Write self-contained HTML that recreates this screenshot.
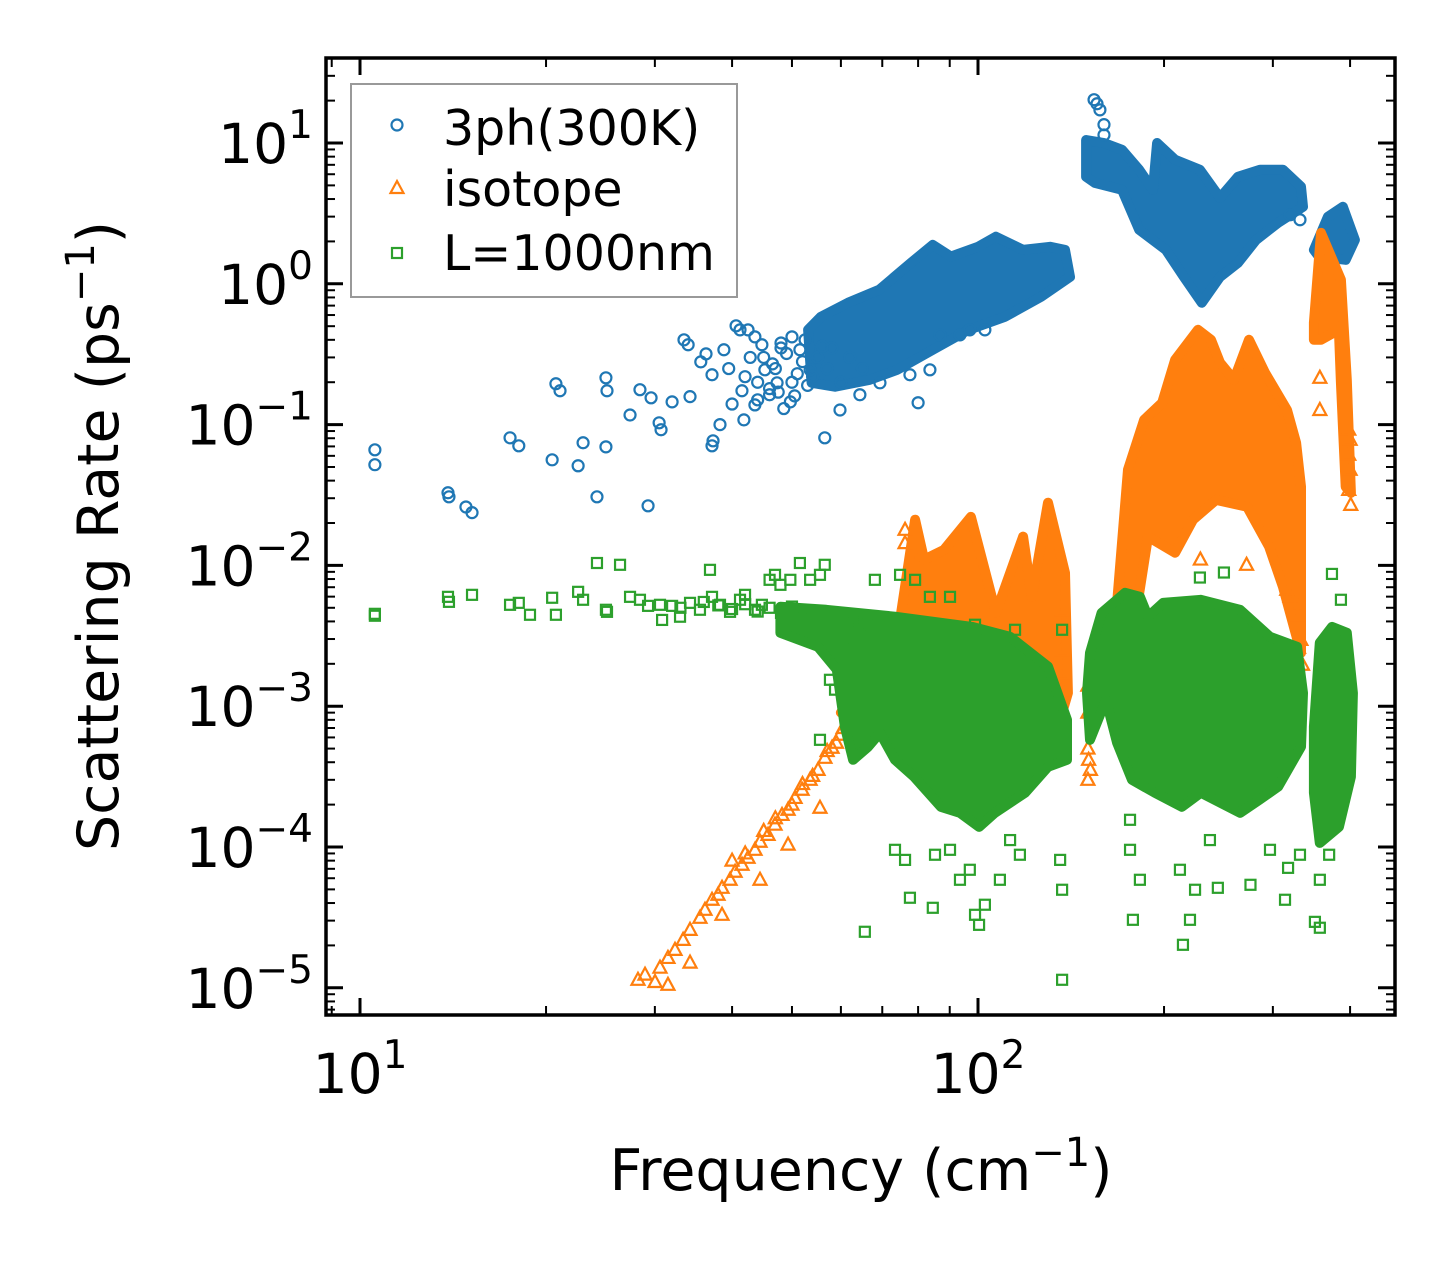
<!DOCTYPE html>
<html><head><meta charset="utf-8"><style>
html,body{margin:0;padding:0;background:#fff;}
svg{display:block;font-family:"DejaVu Sans","Liberation Sans",sans-serif;}
</style></head><body>
<svg id="chart" width="1455" height="1265" viewBox="0 0 1455 1265" xmlns="http://www.w3.org/2000/svg">
<defs><clipPath id="plotclip"><rect x="326" y="58" width="1069" height="957"/></clipPath></defs>
<rect x="0" y="0" width="1455" height="1265" fill="#fff"/>
<g id="marks" clip-path="url(#plotclip)"></g>
<g id="axes"></g>
<text transform="translate(118,536) rotate(-90)" text-anchor="middle" font-size="57" fill="#000">Scattering Rate (ps<tspan dy="-24" font-size="40">−1</tspan><tspan dy="24">)</tspan></text>
<text x="861" y="1190" text-anchor="middle" font-size="57" fill="#000">Frequency (cm<tspan dy="-24" font-size="40">−1</tspan><tspan dy="24">)</tspan></text>
<g>
<rect x="351" y="84" width="386" height="213" fill="#fff" stroke="#999" stroke-width="2"/>
<g><circle cx="397" cy="125" r="5.5" fill="none" stroke="#1f77b4" stroke-width="2.2"/><text x="443" y="145" font-size="49">3ph(300K)</text></g>
<g><polygon points="397,181 403.5,193 390.5,193" fill="none" stroke="#ff7f0e" stroke-width="2.2"/><text x="443" y="206" font-size="49">isotope</text></g>
<g><rect x="392" y="248" width="10" height="10" fill="none" stroke="#2ca02c" stroke-width="2.2"/><text x="443" y="270" font-size="49">L=1000nm</text></g>
</g>
</svg>
<script>
// ---- data (frequency in cm^-1, rate in ps^-1) ----
const blueCloud1Freq=[53.1,55.7,61.6,69.2,77.9,84.5,90.4,100,106.9,118.3,130.8,138.3,140.9,126.5,110.6,96.6,84.5,74,66.8,58.7,53.8];
const blueCloud1Rate=[0.471,0.583,0.733,0.906,1.41,1.89,1.56,1.83,2.16,1.74,1.83,1.74,1.12,0.809,0.583,0.471,0.34,0.245,0.208,0.186,0.198];
const blueCloud2Freq=[149.6,159.9,171,182.3,191.9,194.9,208.4,228.6,246.4,263.5,286,311.6,333.1,335.6,305.9,281.8,263.5,246.4,230.2,215.4,201.4,182.3,171,154.6,149.6];
const blueCloud2Rate=[10.5,10,8.95,6.45,4.65,10,7.6,6.45,4.08,5.75,6.45,6.45,4.89,3.52,2.71,2.05,1.41,1.12,0.733,1.12,1.74,2.42,4.65,5.21,5.75];
const blueCloud3Freq=[349.5,368.3,389.5,407.3,393.6,356.3];
const blueCloud3Rate=[1.74,2.99,3.52,2.05,1.48,1.56];
const blueFreq=[10.57,10.57,13.88,13.93,14.84,15.18,17.49,18.07,20.46,20.75,21.07,22.54,22.96,24.18,25.0,25.1,25.0,29.25,27.35,28.38,29.58,30.48,30.7,31.99,33.44,33.96,34.2,35.6,36.3,37.12,37.26,37.12,38.24,38.8,40.6,41.2,41.98,41.5,41.8,42.45,43.55,43.55,44.7,45.2,46.0,47.3,49.7,51.5,53.5,56.5,59.8,64.4,69.4,77.6,80.0,83.6,86.8,93.5,97.0,102.6,154.1,155.8,157.5,159.9,159.9,319.8,331.9,45,47,48,50,52,54,46,44,48.5,50.5,55,57,58,60,62,65,39.5,40,42.8,46.5,49,51,53,44,47.5,52.5,56,50,48];
const blueRate=[0.0662,0.0519,0.0328,0.0307,0.026,0.0237,0.0806,0.0707,0.0562,0.195,0.174,0.051,0.0743,0.0307,0.215,0.174,0.0695,0.0265,0.117,0.177,0.155,0.103,0.0919,0.145,0.40,0.369,0.158,0.279,0.318,0.0707,0.0767,0.226,0.1,0.34,0.503,0.471,0.219,0.174,0.108,0.471,0.42,0.138,0.369,0.245,0.163,0.198,0.145,0.34,0.245,0.0806,0.127,0.163,0.198,0.226,0.143,0.245,0.434,0.434,0.471,0.471,20.3,19.0,17.2,13.5,11.4,3.09,2.85,0.3,0.25,0.35,0.2,0.28,0.22,0.18,0.15,0.13,0.16,0.3,0.25,0.35,0.2,0.3,0.25,0.25,0.14,0.3,0.27,0.32,0.23,0.19,0.2,0.17,0.4,0.36,0.42,0.38];
const orangeHumpFreq=[151.8,167.9,174.9,185.7,198.6,208.4,227,238.2,246.4,259.6,274.5,291.4,316.2,327.1,333.1,333.1,311.6,295.8,272.5,242.7,222.8,208.4,188.4,179.5,161.1,151.8];
const orangeHumpRate=[0.00137,0.00542,0.0478,0.108,0.143,0.288,0.471,0.40,0.275,0.208,0.40,0.233,0.127,0.0743,0.0362,0.00239,0.00703,0.0136,0.0261,0.0292,0.0211,0.0123,0.016,0.0041,0.00111,0.0008];
const orangeMidFreq=[60,66.8,74.8,79.1,81.8,88.1,97.4,106.9,118.3,122.2,129.8,138.3,139.8,135.8,90,74.8,66];
const orangeMidRate=[0.0009,0.0015,0.0041,0.0211,0.011,0.0129,0.0221,0.0046,0.016,0.00597,0.0279,0.00885,0.00124,0.0008,0.0006,0.0008,0.0008];
const orangeSpikeFreq=[349.5,358.9,386.6,395.1,401.2,393.6,386.6,383.7,358.9,349.5];
const orangeSpikeRate=[0.53,2.3,1.07,0.208,0.0328,0.0362,0.2,0.471,0.4,0.4];
const orangeFreq=[28.17,28.92,30.02,30.58,31.5,32.34,33.33,34.2,35.49,36.16,37.12,37.96,38.53,39.7,40.45,41.51,42.45,43.57,44.39,45.74,46.94,48.18,49.28,50.58,51.92,53.49,55.1,56.53,58.05,59.8,61.6,63.24,31.5,34.2,38.53,44.39,49.28,55.5,40,42,45,47,50,52,54,57,59,60.5,62,64,66,68,70,357.4,357.4,398,400,398,400,398,401,316,333,335,229,272,183,176,164,136,135,151,152,76.2,76.2,319.8,328.3,328.3,330,136.8,136.8,136.8,136.8,136.8,150.6,150.6,150.6,150.6];
const orangeRate=[1.14e-5,1.24e-5,1.10e-5,1.39e-5,1.63e-5,1.86e-5,2.19e-5,2.58e-5,3.14e-5,3.58e-5,4.22e-5,4.58e-5,5.13e-5,5.85e-5,6.67e-5,7.48e-5,8.38e-5,9.55e-5,1.09e-4,1.22e-4,1.44e-4,1.69e-4,1.84e-4,2.23e-4,2.55e-4,3.0e-4,3.53e-4,4.3e-4,5.07e-4,6.27e-4,8.0e-4,1.02e-3,1.05e-5,1.51e-5,3.3e-5,5.85e-5,1.04e-4,1.9e-4,8e-5,9e-5,1.3e-4,1.6e-4,2e-4,2.8e-4,3.2e-4,4.8e-4,5.5e-4,7e-4,9e-4,1.2e-3,1.5e-3,2e-3,2.5e-3,0.215,0.127,0.092,0.078,0.061,0.0478,0.0344,0.0269,0.00671,0.00296,0.00197,0.011,0.0101,0.00214,0.00131,0.00131,0.00074,0.000532,0.000416,0.000353,0.0179,0.0144,0.006,0.0052,0.0044,0.0026,0.0048,0.0035,0.0025,0.0017,0.0013,0.0014,0.0009,0.0005,0.0003];
const greenCloudAFreq=[47.9,56.8,73.4,97.8,112.7,129.8,139.3,139.3,129.8,119.2,106.5,100.4,93.5,87.1,78.8,73.4,69.4,66.4,62.8,60.9,59.1,55.1,47.9];
const greenCloudARate=[0.00508,0.00484,0.00432,0.00366,0.00311,0.00191,0.0008,0.000416,0.000371,0.000243,0.000175,0.000139,0.000175,0.000193,0.000315,0.000416,0.000647,0.000515,0.000416,0.000714,0.00182,0.00264,0.00332];
const greenCloudBFreq=[150.1,151.8,158.5,173,182.8,188.4,199.3,229.4,265.5,296.8,328.3,335.6,333.1,305.9,285.1,265.5,229.4,213.8,193.2,177.5,167.9,161.1,151.8];
const greenCloudBRate=[0.00124,0.00239,0.0046,0.00639,0.00598,0.00432,0.00542,0.0057,0.00484,0.00311,0.00264,0.00124,0.000515,0.000268,0.000216,0.000175,0.000243,0.000193,0.000243,0.0003,0.00055,0.00111,0.000577];
const greenCloudCFreq=[349.5,357.4,373.9,395.1,404.2,401.2,383.7,357.4,349.5];
const greenCloudCRate=[0.000714,0.00282,0.00366,0.00332,0.00124,0.000315,0.000139,0.000107,0.000243];
const greenFreq=[10.57,10.57,13.88,13.93,15.18,17.49,18.07,18.84,20.46,20.75,22.54,22.96,24.18,25.0,25.1,26.35,27.35,28.38,29.25,30.58,30.82,31.99,32.95,34.2,35.49,36.84,37.12,38.24,39.7,41.2,41.98,43.57,44.7,46.0,46.94,47.9,49.7,51.5,53.5,55.5,56.5,55.5,57.6,58.7,62.6,63.2,64.4,68.1,74.8,79.1,83.6,90.1,98.9,114.8,136.8,65.6,77.6,84.5,93.5,98.9,100.4,102.6,136.8,136.8,178.1,182.8,214.6,220.3,224.5,244.4,276,313.9,317.5,350.9,357.4,370,357.4,73.4,76.2,85.2,108.5,116.9,135.8,176.2,212.2,296.8,237.3,90.1,97.0,331.9,176.2,112.7,228.6,250,373.9,386.6,38,40,42,44,46,48,50,36,33];
const greenRate=[0.00453,0.00439,0.00598,0.00551,0.00618,0.00525,0.00542,0.00446,0.00589,0.00446,0.00649,0.0057,0.0104,0.00484,0.00468,0.0101,0.00598,0.0057,0.00516,0.00525,0.0041,0.00516,0.00432,0.00542,0.00484,0.0093,0.00598,0.00525,0.00468,0.0057,0.00618,0.00484,0.00525,0.0079,0.00857,0.00728,0.0079,0.0104,0.0079,0.00857,0.0101,0.000577,0.00154,0.00131,0.00296,0.0041,0.00379,0.0079,0.00857,0.0079,0.00598,0.00598,0.00379,0.00349,0.00349,2.5e-5,4.36e-5,3.7e-5,5.85e-5,3.3e-5,2.8e-5,3.89e-5,1.14e-5,4.97e-5,3.04e-5,5.85e-5,2.02e-5,3.04e-5,4.97e-5,5.13e-5,5.39e-5,4.22e-5,7.11e-5,2.94e-5,2.67e-5,8.81e-5,5.85e-5,9.55e-5,8.1e-5,8.81e-5,5.85e-5,8.81e-5,8.1e-5,9.55e-5,6.89e-5,9.55e-5,1.12e-4,9.55e-5,6.89e-5,8.81e-5,1.56e-4,1.12e-4,0.0082,0.0089,0.0087,0.0057,0.0052,0.0049,0.0053,0.0047,0.0050,0.0046,0.0051,0.0055,0.0050];
const xMajorTicks=[10,100];
const yMajorTicks=[1e-5,1e-4,1e-3,1e-2,1e-1,1,10];
const yTickExp=["−5","−4","−3","−2","−1","0","1"];
const xTickExp=["1","2"];

// ---- scales ----
const NS="http://www.w3.org/2000/svg";
const L=326,R=1395,T=58,B=1015;
function xs(v){return 360+618*(Math.log10(v)-1);}
function ys(v){return 143-140.8*(Math.log10(v)-1);}
const marks=document.getElementById('marks');
const axes=document.getElementById('axes');
function mk(tag,attrs,parent){const e=document.createElementNS(NS,tag);for(const k in attrs)e.setAttribute(k,attrs[k]);parent.appendChild(e);return e;}

function cloud(fx,ry,color,name){
  const pts=fx.map((f,i)=>xs(f).toFixed(1)+','+ys(ry[i]).toFixed(1)).join(' ');
  const p=mk('polygon',{points:pts,fill:color,stroke:color,'stroke-width':10,'stroke-linejoin':'round'},marks);
  
  
}
function scatter(fx,ry,color,shape,name){
  const g=mk('g',{fill:'none',stroke:color,'stroke-width':2.2},marks);
  
  
  fx.forEach((f,i)=>{
    const x=xs(f),y=ys(ry[i]);let e;
    if(shape==='c')e=mk('circle',{cx:x,cy:y,r:5.5},g);
    else if(shape==='t')e=mk('polygon',{points:`${x},${y-7} ${x+6.5},${y+5} ${x-6.5},${y+5}`},g);
    else e=mk('rect',{x:x-5,y:y-5,width:10,height:10},g);
    
    
  });
}
const BLUE='#1f77b4',ORANGE='#ff7f0e',GREEN='#2ca02c';
cloud(blueCloud1Freq,blueCloud1Rate,BLUE,'3ph-cloud-low');
cloud(blueCloud2Freq,blueCloud2Rate,BLUE,'3ph-cloud-mid');
cloud(blueCloud3Freq,blueCloud3Rate,BLUE,'3ph-cloud-high');
scatter(blueFreq,blueRate,BLUE,'c','3ph-series');
cloud(orangeHumpFreq,orangeHumpRate,ORANGE,'isotope-cloud-hump');
cloud(orangeMidFreq,orangeMidRate,ORANGE,'isotope-cloud-mid');
cloud(orangeSpikeFreq,orangeSpikeRate,ORANGE,'isotope-cloud-spike');
scatter(orangeFreq,orangeRate,ORANGE,'t','isotope-series');
cloud(greenCloudAFreq,greenCloudARate,GREEN,'boundary-cloud-a');
cloud(greenCloudBFreq,greenCloudBRate,GREEN,'boundary-cloud-b');
cloud(greenCloudCFreq,greenCloudCRate,GREEN,'boundary-cloud-c');
scatter(greenFreq,greenRate,GREEN,'s','boundary-series');

// ---- axes ----
function line(x1,y1,x2,y2,w,name){
  const l=mk('line',{x1:x1,y1:y1,x2:x2,y2:y2,stroke:'#000','stroke-width':w},axes);
  
  
}
for(let d=0;d<=2;d++){
  for(let m=1;m<=9;m++){
    const x=xs(m*Math.pow(10,d));
    if(x<L||x>R)continue;
    const len=m===1?17:9;
    line(x,B,x,B-len,m===1?3:2,'x-tick');
    line(x,T,x,T+len,m===1?3:2,'x-tick-top');
  }
}
for(let d=-6;d<=1;d++){
  for(let m=1;m<=9;m++){
    const y=ys(m*Math.pow(10,d));
    if(y<T||y>B)continue;
    const len=m===1?17:9;
    line(L,y,L+len,y,m===1?3:2,'y-tick');
    line(R,y,R-len,y,m===1?3:2,'y-tick-right');
  }
}
const fr=mk('rect',{x:L,y:T,width:R-L,height:B-T,fill:'none',stroke:'#000','stroke-width':3.5},axes);


yMajorTicks.forEach((v,i)=>{
  const t=mk('text',{x:313,y:ys(v)+20,'text-anchor':'end','font-size':55},axes);
  
  
  t.innerHTML='10<tspan dy="-25" font-size="39">'+yTickExp[i]+'</tspan>';
});
xMajorTicks.forEach((v,i)=>{
  const t=mk('text',{x:xs(v),y:1093,'text-anchor':'middle','font-size':55},axes);
  
  
  t.innerHTML='10<tspan dy="-25" font-size="39">'+xTickExp[i]+'</tspan>';
});
</script>
</body></html>
